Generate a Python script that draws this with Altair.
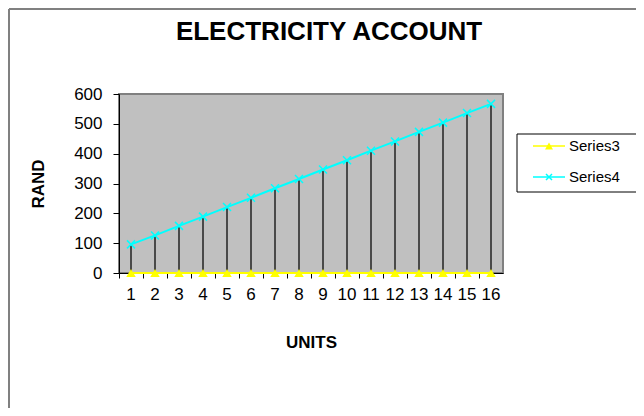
import altair as alt
import pandas as pd

FONT = "Liberation Sans"

title_text = "ELECTRICITY ACCOUNT"
units = list(range(1, 17))
series3 = [0, 0, 0, 0, 0, 0, 0, 0, 0, 0, 0, 0, 0, 0, 0, 0]
series4 = [96, 126, 158, 189, 221, 252, 284, 315, 347, 378, 410, 441, 473, 504, 536, 567]
series_names = ["Series3", "Series4"]
series_colors = ["#FFFF00", "#00FFFF"]
y_ticks = [0, 100, 200, 300, 400, 500, 600]

long_df = pd.DataFrame({
    "UNITS": units + units,
    "RAND": series3 + series4,
    "series": [series_names[0]] * len(units) + [series_names[1]] * len(units),
})
s3_df = pd.DataFrame({"UNITS": units, "RAND": series3})
s4_df = pd.DataFrame({"UNITS": units, "RAND": series4})

x_enc = alt.X(
    "UNITS:O",
    scale=alt.Scale(type="band", paddingInner=0, paddingOuter=0),
    axis=alt.Axis(
        title="UNITS", titleFont=FONT, titleFontSize=17, titleFontWeight="bold",
        titleColor="black", titlePadding=32,
        labelFont=FONT, labelFontSize=17, labelColor="black", labelAngle=0,
        labelPadding=8, tickSize=5, tickColor="black", domainColor="black",
        bandPosition=0, grid=False, zindex=0,
    ),
)
y_enc = alt.Y(
    "RAND:Q",
    scale=alt.Scale(domain=[0, 600], nice=False),
    axis=alt.Axis(
        values=y_ticks, title="RAND", titleFont=FONT, titleFontSize=17,
        titleFontWeight="bold", titleColor="black", titlePadding=26,
        labelFont=FONT, labelFontSize=17, labelColor="black", labelPadding=11,
        tickSize=6, tickColor="black", domainColor="black", grid=False, zindex=0,
    ),
)
color_enc = alt.Color("series:N", scale=alt.Scale(domain=series_names, range=series_colors), legend=None)

one = pd.DataFrame({"a": [0]})
frame_top = alt.Chart(one).mark_rule(color="#808080", strokeWidth=2).encode(
    x=alt.value(-110), x2=alt.value(520), y=alt.value(-85))
frame_left = alt.Chart(one).mark_rule(color="#808080", strokeWidth=2).encode(
    x=alt.value(-110), y=alt.value(-85), y2=alt.value(320))
title_layer = alt.Chart(pd.DataFrame({"t": [title_text]})).mark_text(
    font=FONT, fontSize=26, fontWeight="bold", color="black", align="center",
    baseline="alphabetic").encode(text="t:N", x=alt.value(210), y=alt.value(-54))

drops = alt.Chart(s4_df).mark_rule(color="#222222", strokeWidth=1.5).encode(
    x=x_enc, y=y_enc, y2=alt.datum(0))
lines = alt.Chart(long_df).mark_line(strokeWidth=2).encode(
    x=x_enc, y=y_enc, color=color_enc)
pts3 = alt.Chart(s3_df).mark_point(
    shape="triangle-up", filled=True, size=90, color="#FFFF00", opacity=1).encode(
    x=x_enc, y=y_enc)
pts4 = alt.Chart(s4_df).mark_point(
    shape="M-1,-1L1,1M-1,1L1,-1", filled=False, size=64, color="#00FFFF",
    strokeWidth=1.5, opacity=1).encode(x=x_enc, y=y_enc)

# legend box and entries
legend_df = pd.DataFrame({"series": series_names})
legend_box = alt.Chart(one).mark_rect(fill="white", stroke="black", strokeWidth=1).encode(
    x=alt.value(398), x2=alt.value(522), y=alt.value(40), y2=alt.value(98))
legend_layers = [legend_box]
legend_shapes = ["triangle-up", "M-1,-1L1,1M-1,1L1,-1"]
legend_rows = [52, 83]
for name, shape, row in zip(series_names, legend_shapes, legend_rows):
    base = alt.Chart(legend_df).transform_filter(alt.datum.series == name)
    legend_layers.append(base.mark_rule(strokeWidth=1.5).encode(
        x=alt.value(414), x2=alt.value(446), y=alt.value(row), color=color_enc))
    legend_layers.append(base.mark_point(
        shape=shape, filled=(name == "Series3"), size=64 if name == "Series3" else 36,
        strokeWidth=1.5, opacity=1).encode(
        x=alt.value(430), y=alt.value(row), color=color_enc))
    legend_layers.append(base.mark_text(
        font=FONT, fontSize=15, color="black", align="left", baseline="middle").encode(
        x=alt.value(450), y=alt.value(row), text="series:N"))

chart = alt.layer(frame_top, frame_left, title_layer, drops, lines, pts4, pts3,
                  *legend_layers).properties(
    width=384, height=179,
    autosize=alt.AutoSizeParams(type="none"),
    padding={"left": 111, "top": 86, "right": 133, "bottom": 135},
    background="white",
).configure_view(
    fill="#C0C0C0", stroke="#808080", strokeWidth=2,
)

chart.save("out.html", embed_options={"renderer": "svg", "actions": False})
